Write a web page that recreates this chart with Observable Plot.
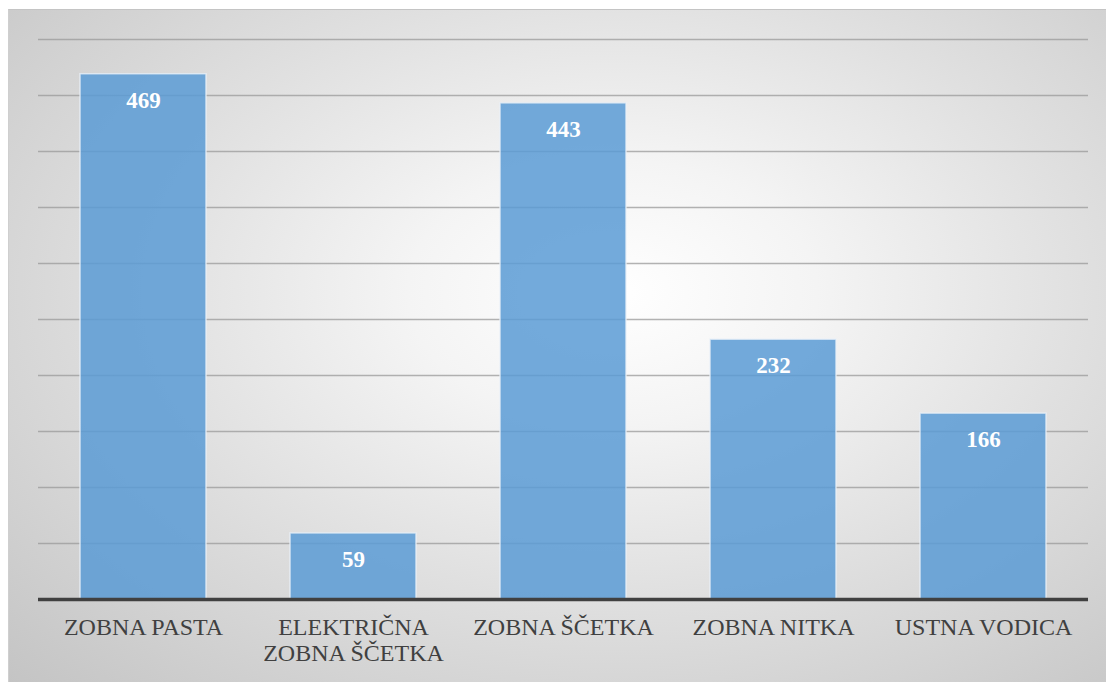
<!DOCTYPE html>
<html>
<head>
<meta charset="utf-8">
<script src="https://cdn.jsdelivr.net/npm/d3@7"></script>
<script src="https://cdn.jsdelivr.net/npm/@observablehq/plot@0.6"></script>
<style>
  html, body { margin: 0; padding: 0; background: #fff; }
  #wrap { position: relative; width: 1106px; height: 682px; overflow: hidden; background: #fff; }
  #bg { position: absolute; left: 8px; top: 9px; right: 0; bottom: 0;
        border-top: 1px solid #c4c4c4; border-left: 1px solid #cfcfcf;
        background: radial-gradient(ellipse farthest-corner at 55% 42%, #ffffff 0%, #f4f4f4 24%, #e0e0e0 55%, #c4c4c4 100%); }
  #chart { position: absolute; left: 0; top: 0; }
</style>
</head>
<body>
<div id="wrap"><div id="bg"></div><div id="chart"></div></div>
<script>
const categories = ["ZOBNA PASTA", "ELEKTRIČNA\nZOBNA ŠČETKA", "ZOBNA ŠČETKA", "ZOBNA NITKA", "USTNA VODICA"];
const values = [469, 59, 443, 232, 166];
const gridTicks = [50, 100, 150, 200, 250, 300, 350, 400, 450, 500];

const data = categories.map((c, i) => ({category: c, value: values[i]}));
const font = "Liberation Serif";

const chart = Plot.plot({
  width: 1106,
  height: 682,
  marginLeft: 38,
  marginRight: 18,
  marginTop: 39,
  marginBottom: 83,
  style: {background: "transparent", fontFamily: font},
  x: {domain: categories, paddingInner: 0.4, paddingOuter: 0.2, label: null},
  y: {domain: [0, 500], axis: null},
  marks: [
    Plot.ruleY(gridTicks, {stroke: "#9a9a9a", strokeOpacity: 0.75, strokeWidth: 1.3}),
    Plot.barY(data, {x: "category", y: "value", fill: "#5b9bd5", fillOpacity: 0.85, stroke: "#e8f0f8", strokeOpacity: 0.8, strokeWidth: 1.5}),
    Plot.ruleY([0], {stroke: "#404040", strokeWidth: 3.5}),
    Plot.text(data, {x: "category", y: "value", text: d => String(d.value), dy: 26, fill: "#ffffff", fontWeight: "bold", fontSize: 23, fontFamily: font}),
    Plot.axisX({tickSize: 0, tickPadding: 16, fontSize: 24, fill: "#404040", fontFamily: font, lineHeight: 1.12, label: null})
  ]
});
document.getElementById("chart").appendChild(chart);
</script>
</body>
</html>
